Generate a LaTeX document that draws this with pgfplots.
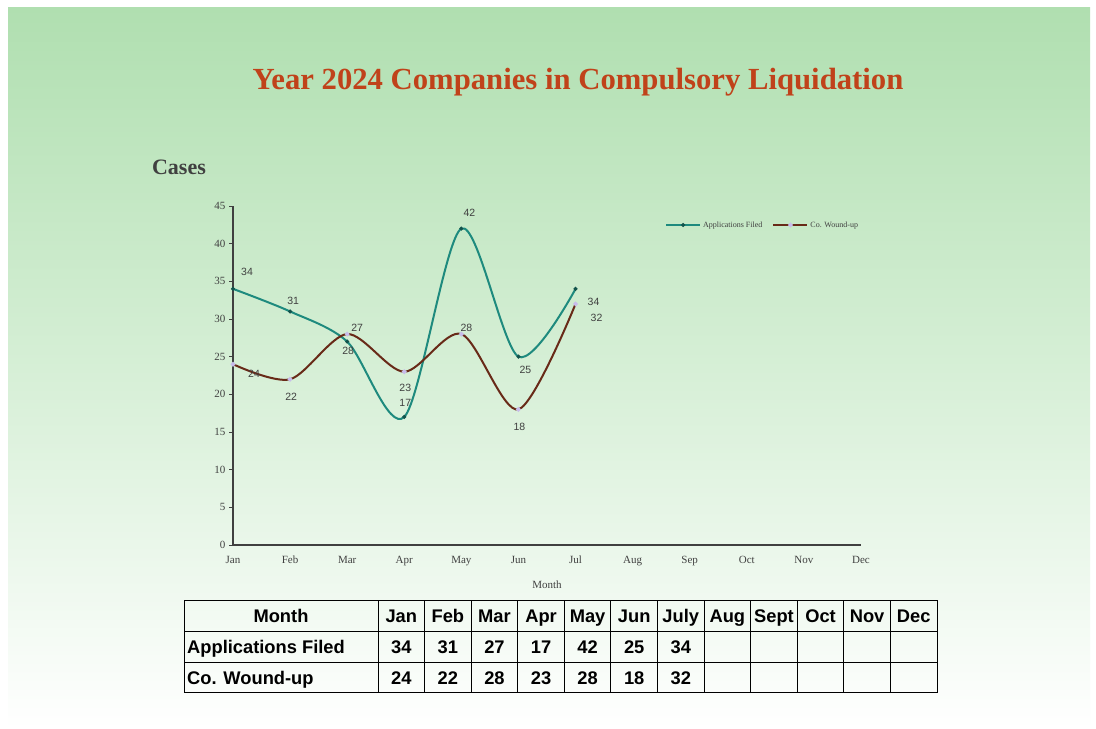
\documentclass[border=0pt]{standalone}
\usepackage{pgfplots}
\pgfplotsset{compat=1.18}
\usepackage{pgfplotstable}
\usepackage{fontspec}
\setmainfont{Liberation Serif}
\newfontfamily\arial{Liberation Sans}
\definecolor{bggreen}{RGB}{176,223,176}
\definecolor{bgmid}{RGB}{214,239,214}
\definecolor{titlered}{RGB}{192,66,26}
\definecolor{appcol}{RGB}{30,138,126}
\definecolor{woundcol}{RGB}{104,42,24}
\definecolor{lav}{RGB}{200,188,235}
\definecolor{txtgray}{RGB}{64,64,64}

\pgfplotstableread{
x y dx dy
0 34 14 17
1 31 3 11
2 27 10 14
3 17 1 14
4 42 8 16
5 25 7 -13
6 34 18 -13
}\appdata
\pgfplotstableread{
x y dx dy
0 24 21 -10
1 22 1 -18
2 28 1 -17
3 23 1 -16
4 28 5 6
5 18 1 -17
6 32 21 -14
}\wounddata

\begin{document}
\begin{tikzpicture}[x=1bp,y=1bp]
\path[use as bounding box] (0,0) rectangle (1096,729);
\fill[white] (0,0) rectangle (1096,729);
\shade[top color=bggreen, bottom color=white, middle color=bgmid] (8,0) rectangle (1090,721);
\node[font=\fontsize{30.7bp}{34bp}\selectfont\bfseries, text=titlered] at (578,647) {Year 2024 Companies in Compulsory Liquidation};
\node[font=\fontsize{22bp}{25bp}\selectfont\bfseries, text=txtgray] at (179,562) {Cases};

\begin{axis}[
  at={(233bp,184bp)}, anchor=south west,
  scale only axis, width=628bp, height=339bp,
  xmin=0, xmax=11, ymin=0, ymax=45,
  axis x line*=bottom, axis y line*=left,
  axis line style={txtgray, line width=1.4bp},
  xtick={0,...,11},
  xticklabels={Jan,Feb,Mar,Apr,May,Jun,Jul,Aug,Sep,Oct,Nov,Dec},
  ytick={0,5,...,45},
  x tick style={draw=none},
  y tick style={txtgray, line width=0.8bp},
  tick align=outside, major tick length=4bp,
  ticklabel style={font=\fontsize{11bp}{12bp}\selectfont, text=txtgray},
  /pgf/number format/assume math mode=true,
  xtick pos=bottom, ytick pos=left,
  xticklabel style={anchor=north, text height=8bp, text depth=2bp, yshift=-3bp},
  xlabel={Month},
  xlabel style={font=\fontsize{11bp}{12bp}\selectfont, text=txtgray, yshift=-9bp},
  legend style={at={(0.683,0.944)}, anchor=west, draw=none, fill=none,
    font=\fontsize{8bp}{9bp}\selectfont, text=txtgray, legend columns=2,
    /tikz/every even column/.append style={column sep=8bp}},
  legend image code/.code={
    \draw[#1, mark repeat=2, mark phase=2] plot coordinates {(0bp,0bp) (17bp,0bp) (34bp,0bp)};},
  legend cell align=left,
  clip=false,
]
\addplot[appcol, line width=2bp, smooth, tension=0.5, mark=*, mark size=0.8bp,
  mark options={fill=appcol!60!black, draw=appcol!60!black},
  nodes near coords,
  visualization depends on={\thisrow{dx}\as\dx},
  visualization depends on={\thisrow{dy}\as\dy},
  nodes near coords style={anchor=center, xshift=\dx bp, yshift=\dy bp,
    font=\arial\fontsize{10.5bp}{12bp}\selectfont, text=txtgray}]
  table[x=x,y=y] {\appdata};
\addlegendentry{Applications Filed}
\addplot[woundcol, line width=2bp, smooth, tension=0.5, mark=*, mark size=1.2bp,
  mark options={fill=lav, draw=lav},
  nodes near coords,
  visualization depends on={\thisrow{dx}\as\dx},
  visualization depends on={\thisrow{dy}\as\dy},
  nodes near coords style={anchor=center, xshift=\dx bp, yshift=\dy bp,
    font=\arial\fontsize{10.5bp}{12bp}\selectfont, text=txtgray}]
  table[x=x,y=y] {\wounddata};
\addlegendentry{Co. Wound-up}
\end{axis}

% data table
\def\cw{46.583}
\draw[black, line width=1bp] (184,36) rectangle (937,128);
\draw[black, line width=1bp] (184,97.3) -- (937,97.3);
\draw[black, line width=1bp] (184,66.7) -- (937,66.7);
\foreach \i in {0,...,11} {
  \draw[black, line width=1bp] ({378+\i*\cw},36) -- ({378+\i*\cw},128);
}
\begin{scope}[every node/.style={font=\arial\bfseries\fontsize{18.3bp}{20bp}\selectfont, text=black, text height=13bp, text depth=4bp, inner sep=0pt}]
\node at (281,110.6) {Month};
\node[anchor=west] at (187,80) {Applications Filed};
\node[anchor=west] at (187,49.3) {Co. Wound-up};
\foreach \m [count=\i from 0] in {Jan,Feb,Mar,Apr,May,Jun,July,Aug,Sept,Oct,Nov,Dec} {
  \node at ({378+(\i+0.5)*\cw},110.6) {\m};
}
\foreach \v [count=\i from 0] in {34,31,27,17,42,25,34} {
  \node at ({378+(\i+0.5)*\cw},80) {\v};
}
\foreach \v [count=\i from 0] in {24,22,28,23,28,18,32} {
  \node at ({378+(\i+0.5)*\cw},49.3) {\v};
}
\end{scope}
\end{tikzpicture}
\end{document}
